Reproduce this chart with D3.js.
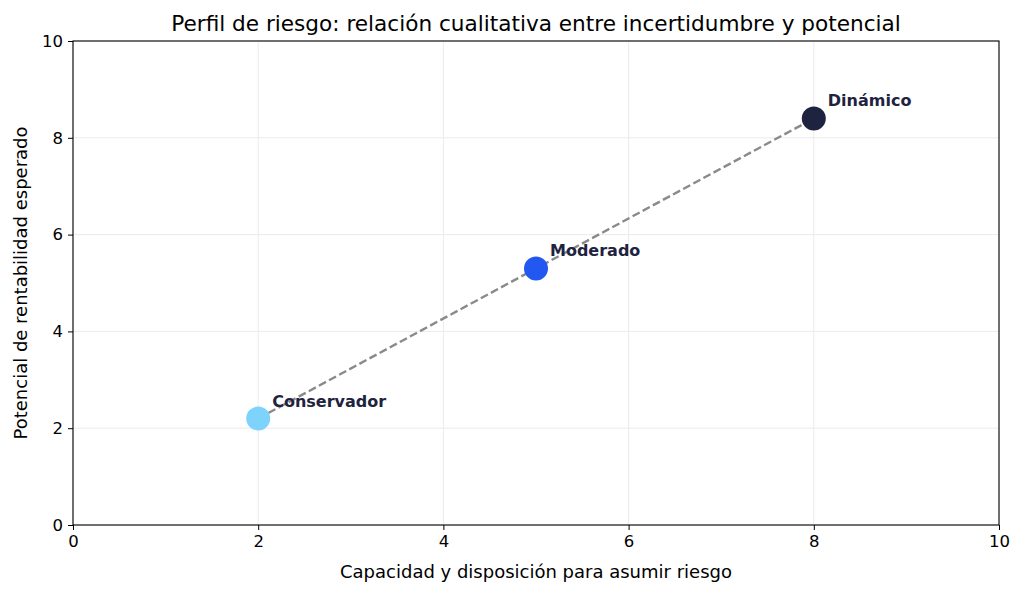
<!DOCTYPE html>
<html>
<head>
<meta charset="utf-8">
<script src="https://cdn.jsdelivr.net/npm/d3@7"></script>
<style>
  body { margin: 0; background: #fff; }
  text { font-family: "DejaVu Sans", sans-serif; }
</style>
</head>
<body>
<div id="viz"></div>
<script>
// perfiles de riesgo
var perfiles = ["Conservador", "Moderado", "Dinámico"];
var riesgo = [2, 5, 8];
var rentabilidad = [2.2, 5.3, 8.4];
var colores = ["#7dd3fc", "#2358f0", "#1e2340"];
var ticks = [0, 2, 4, 6, 8, 10];

var width = 1024,
    height = 595;
var margin = {top: 41, right: 25, bottom: 70, left: 73};

var svg = d3.select("#viz")
  .append("svg")
    .attr("width", width)
    .attr("height", height);

var x = d3.scaleLinear().domain([0, 10]).range([margin.left, width - margin.right]);
var y = d3.scaleLinear().domain([0, 10]).range([height - margin.bottom, margin.top]);

// grid
svg.append("g").selectAll("line.gx")
  .data(ticks)
  .enter().append("line")
    .attr("x1", d => x(d)).attr("x2", d => x(d))
    .attr("y1", y(0)).attr("y2", y(10))
    .style("stroke", "#ebebeb").style("stroke-width", 1);
svg.append("g").selectAll("line.gy")
  .data(ticks)
  .enter().append("line")
    .attr("y1", d => y(d)).attr("y2", d => y(d))
    .attr("x1", x(0)).attr("x2", x(10))
    .style("stroke", "#ebebeb").style("stroke-width", 1);

// axes
var xAxis = svg.append("g")
    .attr("transform", "translate(0," + y(0) + ")")
    .call(d3.axisBottom(x).tickValues(ticks).tickSize(5).tickPadding(5).tickFormat(d3.format("d")));
var yAxis = svg.append("g")
    .attr("transform", "translate(" + x(0) + ",0)")
    .call(d3.axisLeft(y).tickValues(ticks).tickSize(5).tickPadding(5).tickFormat(d3.format("d")));
[xAxis, yAxis].forEach(function(a) {
  a.selectAll("text").style("font-size", "16.5px").style("fill", "#000")
    .style("font-family", "DejaVu Sans");
  a.selectAll("line").style("stroke", "#000");
  a.select(".domain").remove();
});

// frame
svg.append("rect")
    .attr("x", x(0)).attr("y", y(10))
    .attr("width", x(10) - x(0)).attr("height", y(0) - y(10))
    .style("fill", "none").style("stroke", "#000").style("stroke-width", 1.1);

// connecting line
var line = d3.line()
    .x((d, i) => x(riesgo[i]))
    .y((d, i) => y(rentabilidad[i]));
svg.append("path")
    .datum(perfiles)
    .attr("d", line)
    .style("fill", "none")
    .style("stroke", "#8a8a8a")
    .style("stroke-width", 2.4)
    .style("stroke-dasharray", "8,3.5");

// points
svg.selectAll("circle")
  .data(perfiles)
  .enter().append("circle")
    .attr("cx", (d, i) => x(riesgo[i]))
    .attr("cy", (d, i) => y(rentabilidad[i]))
    .attr("r", 12)
    .style("fill", (d, i) => colores[i]);

svg.selectAll("text.lbl")
  .data(perfiles)
  .enter().append("text")
    .attr("class", "lbl")
    .attr("x", (d, i) => x(riesgo[i]) + 14)
    .attr("y", (d, i) => y(rentabilidad[i]) - 12)
    .style("font-size", "16px")
    .style("font-weight", "bold")
    .style("fill", "#1e2340")
    .text(d => d);

// title & labels
svg.append("text")
    .attr("x", (x(0) + x(10)) / 2).attr("y", 30.5)
    .attr("text-anchor", "middle")
    .style("font-size", "21.6px")
    .text("Perfil de riesgo: relación cualitativa entre incertidumbre y potencial");

svg.append("text")
    .attr("x", (x(0) + x(10)) / 2).attr("y", 578)
    .attr("text-anchor", "middle")
    .style("font-size", "18px")
    .text("Capacidad y disposición para asumir riesgo");

svg.append("text")
    .attr("transform", "translate(27," + ((y(0) + y(10)) / 2) + ") rotate(-90)")
    .attr("text-anchor", "middle")
    .style("font-size", "18px")
    .text("Potencial de rentabilidad esperado");
</script>
</body>
</html>
